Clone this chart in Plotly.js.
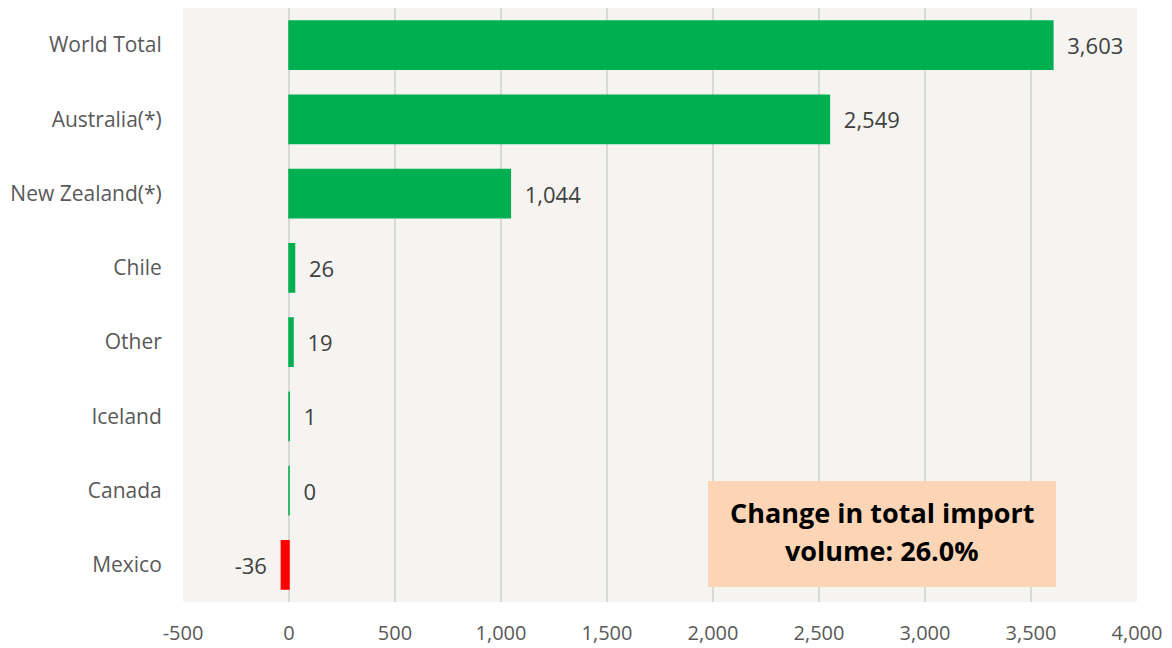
<!DOCTYPE html>
<html>
<head>
<meta charset="utf-8">
<script src="https://cdn.plot.ly/plotly-3.0.1.min.js"></script>
<style>html,body{margin:0;padding:0;background:#fff;}#chart{width:1172px;height:648px;}</style>
</head>
<body>
<div id="chart"></div>
<script>
const categories = ["World Total", "Australia(*)", "New Zealand(*)", "Chile", "Other", "Iceland", "Canada", "Mexico"];
const values = [3603, 2549, 1044, 26, 19, 1, 0.3, -36];
const tickVals = [-500, 0, 500, 1000, 1500, 2000, 2500, 3000, 3500, 4000];
const tickText = ["-500", "0", "500", "1,000", "1,500", "2,000", "2,500", "3,000", "3,500", "4,000"];
const noteLines = ["Change in total import", "volume: 26.0%"];

const fmt = v => Math.round(v).toLocaleString('en-US');
const labels = values.map(v => v >= 0 ? '  ' + fmt(v) : fmt(v) + '  ');
const colors = values.map(v => v >= 0 ? '#00b050' : '#ff0000');

const trace = {
  type: 'bar',
  orientation: 'h',
  y: categories,
  x: values,
  marker: {color: colors, line: {color: colors, width: 1.5}},
  text: labels,
  textposition: 'outside',
  cliponaxis: false,
  textfont: {family: 'Open Sans, sans-serif', size: 22, color: '#404040'},
  hoverinfo: 'none'
};

const noteY = [0.1515, 0.0859];
const annotations = noteLines.map((t, i) => ({
  xref: 'paper', yref: 'paper', x: 0.7327, y: noteY[i],
  xanchor: 'center', yanchor: 'middle',
  text: t, showarrow: false, align: 'center',
  font: {family: 'Open Sans, sans-serif', size: 27, color: '#000000', weight: 'bold'}
}));

const layout = {
  width: 1172, height: 648,
  margin: {l: 183, r: 35, t: 8, b: 46},
  paper_bgcolor: '#ffffff',
  plot_bgcolor: '#f5f4f0',
  showlegend: false,
  bargap: 0.35,
  xaxis: {
    range: [-500, 4000],
    tickvals: tickVals,
    ticktext: tickText,
    showgrid: true, gridcolor: '#d9d9d9', gridwidth: 2,
    zeroline: true, zerolinecolor: '#d9d9d9', zerolinewidth: 2,
    showline: false,
    ticks: 'outside', ticklen: 13, tickcolor: 'rgba(0,0,0,0)',
    tickfont: {family: 'Open Sans, sans-serif', size: 20, color: '#595959'},
    fixedrange: true
  },
  yaxis: {
    type: 'category',
    autorange: 'reversed',
    showgrid: false, zeroline: false, showline: false,
    ticks: 'outside', ticklen: 16, tickcolor: 'rgba(0,0,0,0)',
    tickfont: {family: 'Open Sans, sans-serif', size: 21, color: '#595959'},
    fixedrange: true
  },
  shapes: [{
    type: 'rect', xref: 'paper', yref: 'paper',
    x0: 0.5503, x1: 0.9151, y0: 0.0253, y1: 0.2037,
    fillcolor: '#fbd5b5', line: {width: 0}, layer: 'above'
  }],
  annotations: annotations
};

Plotly.newPlot('chart', [trace], layout, {displayModeBar: false, staticPlot: true});
</script>
</body>
</html>
